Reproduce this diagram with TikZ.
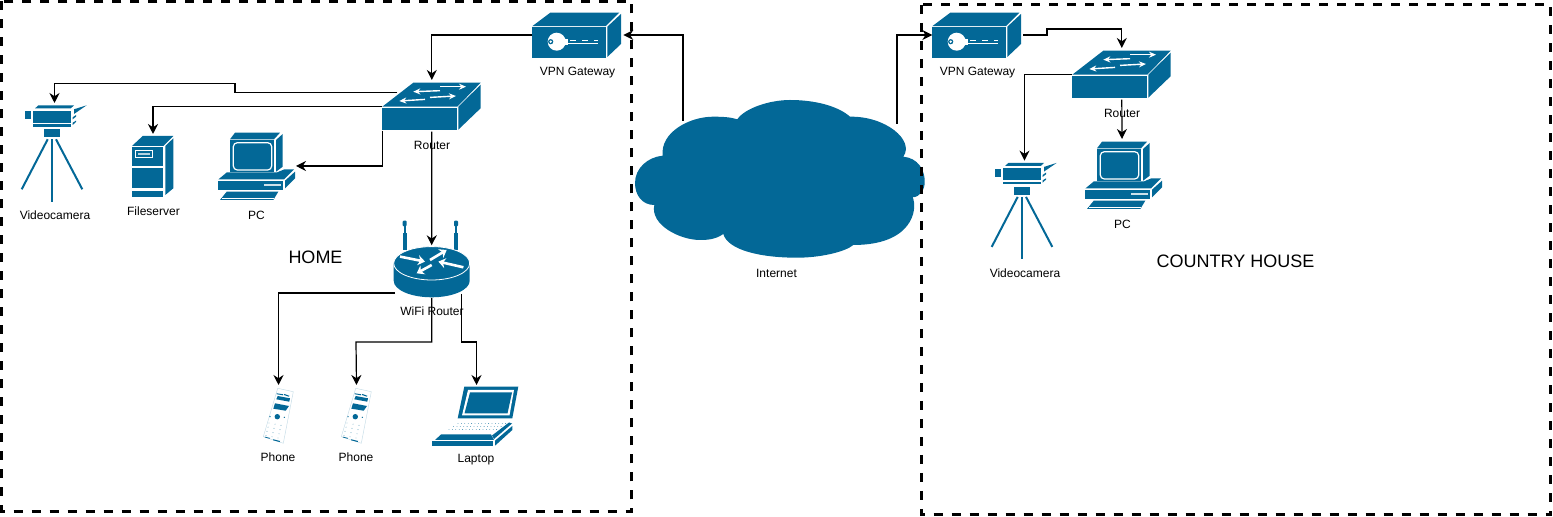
\documentclass[tikz,border=0pt]{standalone}
\usepackage{fontspec}
\setmainfont{Liberation Sans}
\usetikzlibrary{arrows.meta}
\definecolor{netBlue}{HTML}{036897}
\tikzset{
  zoneBox/.style={draw=black, line width=1.5pt, dash pattern=on 4.5pt off 4.5pt},
  wire/.style={draw=black, line width=0.6pt, -{Stealth[length=5pt,width=5pt]}},
  smallLabel/.style={inner sep=0pt, font=\fontsize{6}{7}\selectfont},
  zoneLabel/.style={inner sep=0pt, font=\fontsize{9}{10}\selectfont},
  whiteLine/.style={draw=white, line width=0.4pt},
  whiteArrow/.style={draw=white, line width=0.7pt, -{Stealth[length=3.5pt,width=3pt]}},
  wifiArrow/.style={draw=white, line width=1.3pt, -{Stealth[length=3.5pt,width=5pt]}},
  pics/switchIcon/.style={code={
    \fill[netBlue] (0,0) -- (31,-24) -- (98.4,-24) -- (75,0) -- cycle;
    \fill[netBlue] (0,1) rectangle (75,23.5);
    \fill[netBlue] (76,0) -- (98.4,-22) -- (98.4,1.5) -- (76,23) -- cycle;
    \draw[whiteArrow] (57.7,-16) -- (31,-15);
    \draw[whiteArrow] (57.7,-20) -- (83.7,-20);
    \draw[whiteArrow] (47.7,-9.3) -- (73.7,-10.7);
    \draw[whiteArrow] (42.7,-7.3) -- (17,-5.7);
    \coordinate (-top) at (49.5,-26.7);
    \coordinate (-back) at (15,-14);
    \coordinate (-west) at (0,0);
    \coordinate (-south) at (0,24);
    \coordinate (-bottom) at (49.5,25);
  }},
  pics/gatewayIcon/.style={code={
    \fill[netBlue] (0,-0.5) -- (18,-14) -- (87,-14) -- (73.5,-0.5) -- cycle;
    \fill[netBlue] (0,0) rectangle (73.7,31.6);
    \fill[netBlue] (75,0) -- (88.7,-12.7) -- (88.7,17.3) -- (75,30.3) -- cycle;
    % Key
    \fill[white] (24.4,15) circle (9);
    \fill[netBlue] (18.4,15) circle (2.6);
    \fill[white] (18.4,15) circle (1.3);
    \fill[white] (32,12.6) rectangle (36,18.5);
    \draw[white, line width=0.4pt] (30,16.6) -- (66,16.6);
    \draw[white, line width=0.4pt, dash pattern=on 3pt off 3pt] (38,13.6) -- (66,13.6);
    \coordinate (-west) at (0,8.3);
    \coordinate (-east) at (91,8.3);
  }},
  pics/cameraIcon/.style={code={
    \fill[netBlue] (1.7,-2.3) -- (5,-5.3) -- (40.7,-5.3) -- (37.4,-2.3) -- cycle;
    \fill[netBlue] (0,0) rectangle (37.4,12);
    \fill[netBlue] (0,13.3) rectangle (37.4,16);
    \fill[netBlue] (-8,0.6) rectangle (-2,8.6);
    \fill[netBlue] (40.7,-1.4) -- (53.4,-5.4) -- (40.7,3.3) -- cycle;
    \fill[netBlue] (39.4,6.6) -- (42.7,4.3) -- (42.7,6) -- (39.4,8.6) -- cycle;
    \fill[netBlue] (39.4,12) -- (42.7,10) -- (42.7,11.3) -- (39.4,14.3) -- cycle;
    \fill[netBlue] (10.7,18.3) rectangle (26.7,26.3);
    % Tripod
    \draw[netBlue, line width=1pt] (14.4,28.6) -- (-11.6,78.6);
    \draw[netBlue, line width=1pt] (19,28.6) -- (19,91);
    \draw[netBlue, line width=1pt] (22.7,28.6) -- (49,78.6);
    \coordinate (-top) at (21.2,-7.7);
  }},
  pics/serverIcon/.style={code={
    \fill[netBlue] (0,10) -- (10.7,0) -- (41.3,0) -- (31.3,10) -- cycle;
    \fill[netBlue] (33.3,10) -- (41.3,2.3) -- (41.3,52.3) -- (33.3,59) -- cycle;
    \fill[netBlue] (0,10.7) rectangle (31.3,29.7);
    \fill[netBlue] (0,31.7) rectangle (31.3,52.3);
    \fill[netBlue] (0,54.7) rectangle (31.3,60.7);
    \draw[whiteLine, line width=0.5pt] (3,14.7) rectangle (20.7,21.3);
    \fill[white!70!netBlue] (6,17) rectangle (18,19);
    \coordinate (-top) at (21,-2);
  }},
  pics/pcIcon/.style={code={
    \fill[netBlue] (5,-7.3) -- (50,-7.3) -- (44,-0.7) -- (0,-0.7) -- cycle;
    \fill[netBlue] (0,0) rectangle (44,31.7);
    \draw[whiteLine, line width=0.6pt, rounded corners=2pt] (3.3,2.7) rectangle (41.7,30);
    \fill[netBlue] (46,0) -- (52.7,-6) -- (52.7,26.7) -- (46,31.7) -- cycle;
    \fill[netBlue] (-11.7,39.5) -- (-3.3,32.5) -- (46.7,32.5) -- (54,29.5) -- (64,29.3) -- (54,39.5) -- cycle;
    \fill[netBlue] (-11.7,40.7) rectangle (53.3,50);
    \fill[netBlue] (55,40.7) -- (65,31.7) -- (65,38.3) -- (55,48.3) -- cycle;
    \fill[white!80!netBlue] (34,44.3) rectangle (50.7,46.3);
    \fill[netBlue] (-10,60) -- (-3.3,51.7) -- (48.3,51.7) -- (43.3,60) -- cycle;
    \draw[whiteLine] (-8,58.2) -- (44,58.2);
    \coordinate (-top) at (25,-10);
    \coordinate (-east) at (66,26);
  }},
  pics/wifiIcon/.style={code={
    % Antennas
    \foreach \ax in {-27,24.3} {
      \fill[netBlue, rounded corners=0.5pt] (\ax-2,-42.6) rectangle (\ax+2,-37);
      \fill[netBlue] (\ax-1,-37) rectangle (\ax+1,-30);
      \fill[netBlue] (\ax-2,-30) rectangle (\ax+2,-13);
    }
    \fill[netBlue] (-38,0) -- (-38,17.5) arc[start angle=180, end angle=360, x radius=38, y radius=-16.5] -- (38,0) -- cycle;
    \draw[white, line width=0.4pt, fill=netBlue] (0,0) ellipse (38 and 16.7);
    \draw[wifiArrow] (-31.7,-6.7) -- (-6.7,-1.7);
    \draw[wifiArrow] (31.7,4) -- (6.7,-1.7);
    \draw[wifiArrow] (-1.7,-3.3) -- (15,-13.3);
    \draw[wifiArrow] (0,1.7) -- (-15,10);
    \coordinate (-top) at (0,-18);
    \coordinate (-west) at (-36.7,29.7);
    \coordinate (-south) at (0,34.7);
    \coordinate (-east) at (29.8,30.7);
  }},
  pics/phoneIcon/.style={code={
    \draw[netBlue!25, line width=0.2pt, fill=white] (22.7,8.3) -- (38.3,11.7) -- (28.3,63.3) -- (8.3,56.7) -- cycle;
    \fill[netBlue] (21.7,13.3) -- (28.3,14.3) -- (28,15.3) -- (21.5,14.2) -- cycle;
    \fill[netBlue] (29.3,14) -- (34.3,15.7) -- (34,16.7) -- (29,15) -- cycle;
    \fill[netBlue] (22.7,16) -- (35,18.3) -- (34.3,21.7) -- (21.3,19.3) -- cycle;
    \fill[netBlue] (20,23.3) -- (34,26) -- (30.7,30.7) -- (18.3,28.7) -- cycle;
    \fill[netBlue] (22.3,36.7) circle (2.7);
    \fill[netBlue] (15,36.7) circle (0.7);
    \fill[netBlue] (29.3,37.3) circle (0.7);
    % Keypad
    \foreach \row in {0,1,2,3} {
      \foreach \col in {0,1,2} {
        \fill[netBlue!70] (14+\col*6-\row*1,43+\row*4.2+\col*1.2) circle (0.45);
      }
    }
    \fill[netBlue] (10,56.7) -- (15,58) -- (14.7,58.7) -- (9.7,57.4) -- cycle;
    \fill[netBlue] (18.3,59.3) -- (25,61) -- (24.7,62) -- (18,60.3) -- cycle;
    \coordinate (-top) at (23.5,5);
  }},
  pics/laptopIcon/.style={code={
    \fill[netBlue] (39.3,6.7) -- (93.3,6.7) -- (87.3,38.3) -- (32.7,38.3) -- cycle;
    \fill[white] (43,10) -- (89,10) -- (84.5,35.5) -- (37,35.5) -- cycle;
    \fill[netBlue] (45,12.5) -- (87,12.5) -- (82.5,33.5) -- (39.5,33.5) -- cycle;
    % Keyboard
    \foreach \row in {0,1,2} {
      \foreach \col in {0,...,14} {
        \fill[netBlue!80] (33-\row*4.5+\col*3.4,43.5+\row*3) circle (0.4);
      }
    }
    \fill[netBlue] (10,60) -- (16,54.5) -- (66,54.5) -- (69,60) -- cycle;
    \fill[netBlue] (67,55.5) -- (84,42.5) -- (87,43.5) -- (69,59) -- cycle;
    \fill[netBlue] (7.3,61) rectangle (68.3,65.7);
    \fill[netBlue] (70,60.7) -- (87.3,46) -- (87.3,50) -- (70,65.7) -- cycle;
    \coordinate (-top) at (51.5,5);
  }},
}
\begin{document}
\begin{tikzpicture}[x=0.5pt, y=-0.5pt]
\useasboundingbox (0,0) rectangle (1553,517);
% Internet cloud
\fill[netBlue] (662.7,155.7) .. controls (660,132) and (690,116.7) .. (713,116.7)
  .. controls (722,116.7) and (730,117) .. (737.3,119.3)
  .. controls (745,108) and (770,100) .. (790,100)
  .. controls (815,100) and (838,106) .. (850,116.7)
  .. controls (885,116) and (915,140) .. (903.3,156.7)
  .. controls (918,158) and (925,170) .. (924.7,182)
  .. controls (924.7,190) and (920,197) .. (912.7,197.3)
  .. controls (918,210) and (912,245) .. (853.3,245)
  .. controls (845,252) and (820,257.7) .. (797,257.7)
  .. controls (760,257.7) and (728,250) .. (723.3,234)
  .. controls (715,240) and (705,240) .. (700,240)
  .. controls (680,240) and (650,225) .. (654.3,205)
  .. controls (642,205) and (635,195) .. (635,183)
  .. controls (635,168) and (648,157) .. (662.7,155.7) -- cycle;
\coordinate (cloudLeft) at (683,121);
\coordinate (cloudRight) at (897,124);
% Dashed zones
\draw[zoneBox] (1.5,1.5) rectangle (631.5,511.5);
\draw[zoneBox] (921.5,5) rectangle (1550.5,515);
% Home devices
\pic (gwHome) at (532.3,26.7) {gatewayIcon};
\pic (rtHome) at (382.3,106.7) {switchIcon};
\pic (camHome) at (33.3,110.7) {cameraIcon};
\pic (fileHome) at (132,136) {serverIcon};
\pic (pcHome) at (230,140) {pcIcon};
\pic (wifiHome) at (431.7,263.3) {wifiIcon};
\pic (phoneA) at (255,380) {phoneIcon};
\pic (phoneB) at (333,380) {phoneIcon};
\pic (lapHome) at (425,380) {laptopIcon};
% Country house devices
\pic (gwCountry) at (932.3,26.7) {gatewayIcon};
\pic (rtCountry) at (1072.3,74.7) {switchIcon};
\pic (camCountry) at (1003.3,168.3) {cameraIcon};
\pic (pcCountry) at (1097,149) {pcIcon};
% Labels
\node[smallLabel] (lblCamHome) at (55,215) {Videocamera};
\node[smallLabel] (lblFile) at (153.5,211) {Fileserver};
\node[smallLabel] (lblPcHome) at (256.5,215) {PC};
\node[smallLabel] (lblRtHome) at (432,145) {Router};
\node[smallLabel] (lblGwHome) at (577.5,73) {VPN Gateway};
\node[zoneLabel] (lblHome) at (315.5,257) {HOME};
\node[smallLabel] (lblWifi) at (432,311) {WiFi Router};
\node[smallLabel] (lblPhoneA) at (278,457) {Phone};
\node[smallLabel] (lblPhoneB) at (356,457) {Phone};
\node[smallLabel] (lblLaptop) at (476,460) {Laptop};
\node[smallLabel] (lblNet) at (776.5,273) {Internet};
\node[smallLabel] (lblGwCountry) at (977.5,73) {VPN Gateway};
\node[smallLabel] (lblRtCountry) at (1122,113) {Router};
\node[smallLabel] (lblPcCountry) at (1122.5,224) {PC};
\node[smallLabel] (lblCamCountry) at (1025,273) {Videocamera};
\node[zoneLabel] (lblCountry) at (1235.5,261) {COUNTRY HOUSE};
% Links
\coordinate (camHop) at (235,83.5);
\coordinate (gwHop) at (1047,29);
\coordinate (phoneHop) at (356,342);
\coordinate (lapHop) at (476.5,342);
\draw[wire] (cloudLeft) |- (gwHome-east);
\draw[wire] (gwHome-west) -| (rtHome-top);
\draw[wire] (rtHome-back) -| (camHop) -| (camHome-top);
\draw[wire] (rtHome-west) -| (fileHome-top);
\draw[wire] (rtHome-south) |- (pcHome-east);
\draw[wire] (rtHome-bottom) -- (wifiHome-top);
\draw[wire] (wifiHome-west) -| (phoneA-top);
\draw[wire] (wifiHome-south) |- (phoneHop) -- (phoneB-top);
\draw[wire] (wifiHome-east) |- (lapHop) -- (lapHome-top);
\draw[wire] (cloudRight) |- (gwCountry-west);
\draw[wire] (gwCountry-east) -| (gwHop) -| (rtCountry-top);
\draw[wire] (rtCountry-west) -| (camCountry-top);
\draw[wire] (rtCountry-bottom) -- (pcCountry-top);
\end{tikzpicture}
\end{document}
